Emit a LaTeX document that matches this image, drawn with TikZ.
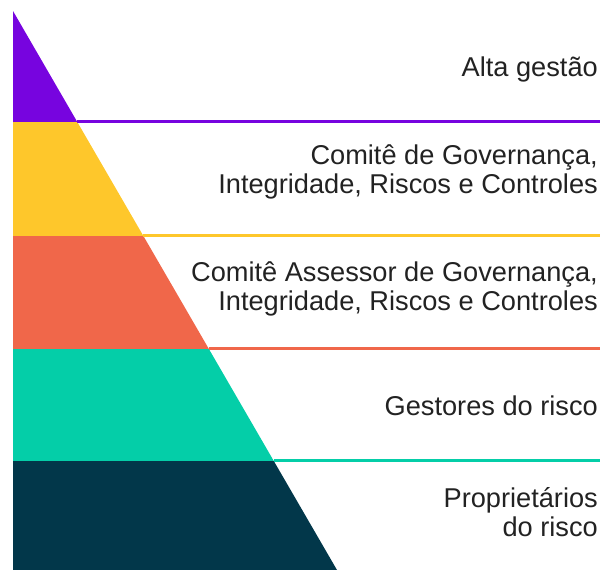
\documentclass[tikz,border=0pt]{standalone}
\usepackage{fontspec}
\setmainfont{Liberation Sans}
\usetikzlibrary{positioning, calc}
\definecolor{topviolet}{HTML}{7704DF}
\definecolor{boardyellow}{HTML}{FEC72B}
\definecolor{advisorange}{HTML}{F0674A}
\definecolor{managerteal}{HTML}{04CEA8}
\definecolor{ownernavy}{HTML}{02374A}
\definecolor{labelgray}{HTML}{222222}
\tikzset{
level/.style = {draw = none},
divider/.style = {line width = 2.6pt},
tier/.style = {anchor = base east, inner sep = 0pt, align = right, text = labelgray,
   font = \fontsize{27.2pt}{28.8pt}\selectfont}
}

\begin{document}
\begin{tikzpicture}[x = 1pt, y = -1pt]
\useasboundingbox (0,0) rectangle (608,570);

%% Pyramid corners and level edges
\coordinate (apex) at (13,11);
\coordinate (baseL) at (13,570);
\coordinate (baseR) at (337,570);
\coordinate (e1) at (77.3,122);
\coordinate (e2) at (143.4,236);
\coordinate (e3) at (208.9,349);
\coordinate (e4) at (273.8,461);

%% Levels
\fill [level, topviolet] (apex) -- (e1) -- (13,122) -- cycle;
\fill [level, boardyellow] (13,122) -- (e1) -- (e2) -- (13,236) -- cycle;
\fill [level, advisorange] (13,236) -- (e2) -- (e3) -- (13,349) -- cycle;
\fill [level, managerteal] (13,349) -- (e3) -- (e4) -- (13,461) -- cycle;
\fill [level, ownernavy] (13,461) -- (e4) -- (baseR) -- (baseL) -- cycle;

%% Dividers
\coordinate (d1) at (600,121.6);
\coordinate (d2) at (600,235.4);
\coordinate (d3) at (600,348.4);
\coordinate (d4) at (600,460.4);
\draw [divider, topviolet] (e1 |- d1) -- (d1);
\draw [divider, boardyellow] (e2 |- d2) -- (d2);
\draw [divider, advisorange] (e3 |- d3) -- (d3);
\draw [divider, managerteal] (e4 |- d4) -- (d4);

%% Labels (base = last line)
\node [tier] (top) at (598,76) {Alta gestão};
\node [tier] (board) at (598,193.5) {Comitê de Governança,\\Integridade, Riscos e Controles};
\node [tier] (advisory) at (598,310.5) {Comitê Assessor de Governança,\\Integridade, Riscos e Controles};
\node [tier] (managers) at (598,415) {Gestores do risco};
\node [tier] (owners) at (598,536) {Proprietários\\do risco};

\end{tikzpicture}
\end{document}
